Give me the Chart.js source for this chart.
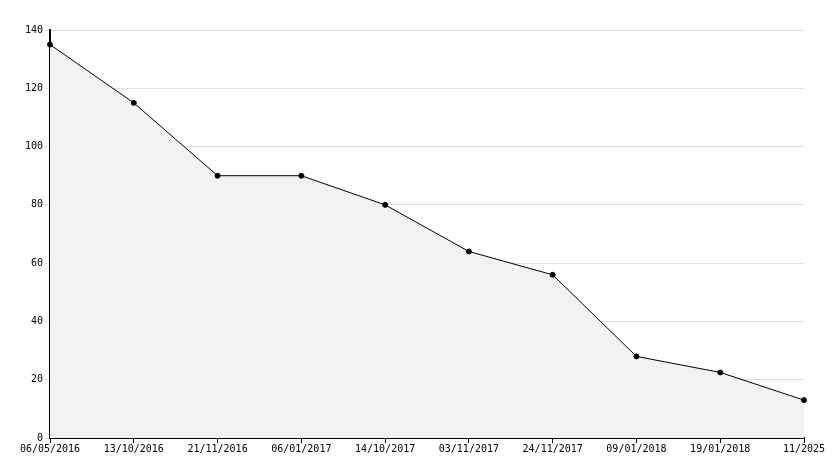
<!DOCTYPE html>
<html><head><meta charset="utf-8">
<script src="https://cdn.jsdelivr.net/npm/chart.js@4"></script>
<style>body{margin:0;background:#fff}#c{display:block}</style>
</head><body>
<div style="width:834px;height:468px"><canvas id="c"></canvas></div>
<script>
var labels = ['06/05/2016','13/10/2016','21/11/2016','06/01/2017','14/10/2017','03/11/2017','24/11/2017','09/01/2018','19/01/2018','11/2025'];
var values = [135, 115, 90, 90, 80, 64, 56, 28, 22.5, 13];
var yTicks = [0, 20, 40, 60, 80, 100, 120, 140];

var font = {family: 'DejaVu Sans Mono', size: 10};
var chart = new Chart(document.getElementById('c'), {
  type: 'line',
  data: {labels: labels, datasets: [{
    data: values, borderColor: '#000', borderWidth: 1,
    backgroundColor: '#f2f2f2', fill: true, tension: 0,
    pointRadius: 2.5, pointBackgroundColor: '#000', pointBorderColor: '#000'
  }]},
  options: {
    animation: false, responsive: true, maintainAspectRatio: false,
    layout: {padding: {top: 30, right: 30, left: 0, bottom: 0}},
    plugins: {legend: {display: false}, tooltip: {enabled: false}},
    scales: {
      x: {offset: false,
        grid: {display: true, drawOnChartArea: false, color: '#000', tickLength: 5},
        border: {color: '#000', width: 2},
        ticks: {color: '#000', font: font, maxRotation: 0, autoSkip: false, padding: 0},
        afterFit: function (s) { s.height = 30; }},
      y: {min: 0, max: 140, afterBuildTicks: function (s) { s.ticks = yTicks.map(function (v) { return {value: v}; }); },
        grid: {color: '#dddddd', tickLength: 5},
        border: {color: '#000', width: 2},
        ticks: {color: '#000', font: font, padding: 2},
        afterFit: function (s) { s.width = 50; }}
    }
  }
});
</script>
</body></html>
